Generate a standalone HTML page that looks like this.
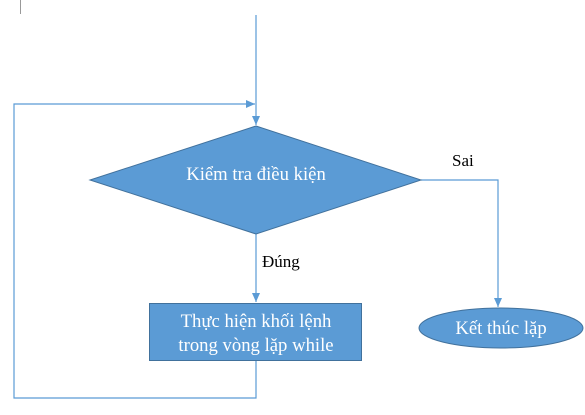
<!DOCTYPE html>
<html><head><meta charset="utf-8"><style>
html,body{margin:0;padding:0;background:#fff;width:585px;height:415px;overflow:hidden}
svg{display:block}
text{font-family:"Liberation Serif",serif}
</style></head><body>
<svg width="585" height="415" viewBox="0 0 585 415" xmlns="http://www.w3.org/2000/svg">
<defs><marker id="a" markerWidth="10" markerHeight="10" refX="9" refY="5" orient="auto" markerUnits="userSpaceOnUse"><path d="M0,1 L9,5 L0,9 Z" fill="#5b9bd5"/></marker></defs>
<line x1="20.5" y1="0" x2="20.5" y2="14" stroke="#999" stroke-width="1"/>
<g stroke="#5b9bd5" stroke-width="1.2" fill="none">
<line x1="256" y1="15" x2="256" y2="125" marker-end="url(#a)"/>
<polyline points="256,361 256,398 14,398 14,104 255,104" marker-end="url(#a)"/>
<polyline points="421,180 498,180 498,307" marker-end="url(#a)"/>
<line x1="256" y1="234" x2="256" y2="302" marker-end="url(#a)"/>
</g>
<polygon points="256,126 421,180 256,234 90,180" fill="#5b9bd5" stroke="#41719c" stroke-width="1"/>
<rect x="149.5" y="303.5" width="212" height="57" fill="#5b9bd5" stroke="#41719c" stroke-width="1"/>
<ellipse cx="501" cy="328" rx="82" ry="20" fill="#5b9bd5" stroke="#41719c" stroke-width="1"/>
<g fill="#fff" font-size="18.7" text-anchor="middle">
<text x="256" y="180">Kiểm tra điều kiện</text>
<text x="256" y="327">Thực hiện khối lệnh</text>
<text x="256" y="351">trong vòng lặp while</text>
<text x="501" y="334">Kết thúc lặp</text>
</g>
<g fill="#000" font-size="17">
<text x="452" y="166">Sai</text>
<text x="262" y="267">Đúng</text>
</g>
</svg>
</body></html>
